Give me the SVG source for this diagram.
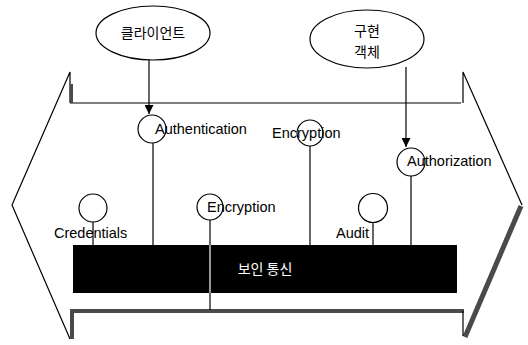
<svg xmlns="http://www.w3.org/2000/svg" width="528" height="345" viewBox="0 0 528 345">
<style>
.ln{stroke:#000;stroke-width:1.2;fill:none}
.hatch{stroke:#4a4a4a;fill:none}
.nd{fill:#fff;stroke:#000;stroke-width:1.2}
.ring{fill:none;stroke:#000;stroke-width:1.2}
.lbl{font-family:"Liberation Sans",Arial,sans-serif;font-size:14.5px;fill:#000}
.kr{font-family:"Noto Sans CJK KR","Liberation Sans",sans-serif;font-size:14px;fill:#000;text-anchor:middle}
.bartxt{font-family:"Noto Sans CJK KR","Liberation Sans",sans-serif;font-size:14px;fill:#fff;text-anchor:middle}
</style>
<defs>
<marker id="ah" viewBox="0 0 10 10" refX="10" refY="5" markerWidth="9" markerHeight="9" markerUnits="userSpaceOnUse" orient="auto">
<path d="M0,0 L10,5 L0,10 z" fill="#000"/>
</marker>
</defs>
<rect width="528" height="345" fill="#fff"/>

<g id="banner">
<path class="ln" d="M70,103 H461 M463,103 V72 L522,205"/>
<path class="ln" d="M70,103 V72 L12,205 L70,339"/>
<path class="hatch" stroke-width="3" d="M71.5,84 V103"/>
<path class="hatch" stroke-width="4" d="M72,339 V311 H464"/>
<path class="hatch" stroke-width="5" d="M521,206 L465,337"/>
<path class="ln" d="M463,311 V336"/>
</g>

<g id="connectors">
<line class="ln" x1="149" y1="60" x2="149" y2="114" marker-end="url(#ah)"/>
<line class="ln" x1="406" y1="67" x2="406" y2="147" marker-end="url(#ah)"/>
<line class="ln" x1="153" y1="143" x2="153" y2="245"/>
<line class="ln" x1="310" y1="146" x2="310" y2="245"/>
<line class="ln" x1="411" y1="176" x2="411" y2="245"/>
<line class="ln" x1="93" y1="222" x2="93" y2="245"/>
<line class="ln" x1="373" y1="222" x2="373" y2="245"/>
<line class="ln" x1="210" y1="220" x2="210" y2="245"/>
<line class="ln" x1="210" y1="293" x2="210" y2="310"/>
</g>

<g id="bar">
<rect x="73" y="245" width="384" height="48" fill="#000"/>
<line x1="210" y1="245" x2="210" y2="293" stroke="#fff" stroke-width="1.2"/>
<text class="bartxt" x="265" y="274">보인 통신</text>
</g>

<g id="client">
<ellipse class="nd" cx="153" cy="33" rx="57" ry="27"/>
<text class="kr" x="153" y="38">클라이언트</text>
</g>

<g id="impl">
<ellipse class="nd" cx="367" cy="39" rx="57" ry="29"/>
<text class="kr" x="367" y="36">구현</text>
<text class="kr" x="367" y="57">객체</text>
</g>

<g id="authentication">
<circle class="ring" cx="152" cy="129" r="14"/>
<text class="lbl" x="155" y="134">Authentication</text>
</g>

<g id="encryption1">
<circle class="ring" cx="310" cy="133" r="13"/>
<text class="lbl" x="272" y="138">Encryption</text>
</g>

<g id="encryption2">
<circle class="ring" cx="210" cy="207" r="13"/>
<text class="lbl" x="207" y="212">Encryption</text>
</g>

<g id="authorization">
<circle class="ring" cx="411" cy="162" r="14"/>
<text class="lbl" x="407" y="166">Authorization</text>
</g>

<g id="credentials">
<circle class="nd" cx="93" cy="208" r="14"/>
<text class="lbl" x="54" y="238">Credentials</text>
</g>

<g id="audit">
<circle class="nd" cx="373" cy="208" r="14.5"/>
<text class="lbl" x="336" y="238">Audit</text>
</g>
</svg>
